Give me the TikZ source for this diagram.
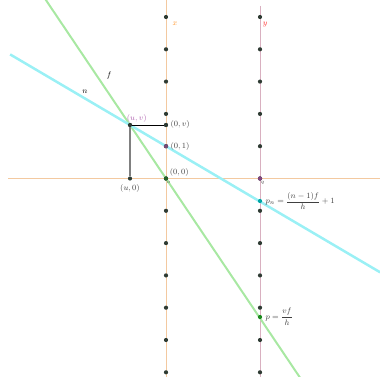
\documentclass[tikz,border=0pt]{standalone}
\usepackage{xcolor}
\usepackage{tikz}
\usepackage{amsmath}
\usetikzlibrary{positioning,calc}

\definecolor{axisorange}{HTML}{F3C9A0}
\definecolor{linepink}{HTML}{D9B0C0}
\definecolor{fgreen}{HTML}{A8E8A2}
\definecolor{ncyan}{HTML}{9AF0F5}
\definecolor{dotdark}{HTML}{2E3B33}

\begin{document}
\begin{tikzpicture}[
    x=1pt,y=-1pt,
    dot/.style={
        circle,fill=dotdark,inner sep=0pt,
        minimum size=4.2pt
    },
    lbl/.style={font=\footnotesize,inner sep=1pt,text=black!75},
    axis/.style={axisorange,line width=0.9pt},
    fline/.style={fgreen,line width=2pt},
    nline/.style={ncyan,line width=2.5pt}
]
\useasboundingbox (0,0) rectangle (380,377);

% axes
\coordinate (hleft) at (8,178.5);
\coordinate (hright) at (380,178.5);
\coordinate (xtop) at (166,0);
\coordinate (xbot) at (166,377);
\coordinate (ytop) at (260,6);
\coordinate (ybot) at (260,377);
\draw[axis] (hleft) -- (hright);
\draw[axis] (xtop) -- (xbot);
\draw[linepink,line width=0.9pt] (ytop) -- (ybot);

% points
\node[dot] (uv) at (130,125) {};
\node[dot] (u0) at (130,178.5) {};
\node[dot] (zv) at (166,125) {};
\node[dot,fill=black!55!violet!70] (one) at (166,146.2) {};
\node[dot,fill=dotdark!80!green] (orig) at (166,178.5) {};
\node[dot,fill=violet!45!gray] (q) at (260,178.5) {};

% lines f and n
\coordinate (ftop) at ($(uv)!-2.36!(orig)$);
\coordinate (fbot) at ($(uv)!4.75!(orig)$);
\coordinate (nleft) at ($(uv)!-3.33!(one)$);
\coordinate (nright) at ($(uv)!6.95!(one)$);
\draw[fline] (ftop) -- (fbot);
\draw[nline] (nleft) -- (nright);

\node[dot,fill=teal!70!cyan] (pn) at (260,201) {};
\node[dot,fill=green!40!dotdark] (p) at (260,317) {};

\draw[gray,line width=1.4pt] (uv) -- (u0);
\draw[black,line width=0.9pt] (uv) -- (zv);

% dots on both lines
\foreach \i in {0,...,11} {
    \node[dot] (xd\i) at (166,17+32.3*\i) {};
    \node[dot] (yd\i) at (260,17+32.3*\i) {};
}
\node[dot,fill=black!55!violet!70] at (one) {};
\node[dot,fill=dotdark!80!green] at (orig) {};
\node[dot,fill=violet!45!gray] at (q) {};
\node[dot] at (uv) {};
\node[dot] at (zv) {};

% labels
\node[lbl,text=violet!60,above right=0pt and -6pt of uv] {$(u,v)$};
\node[lbl,right=1pt of zv] {$(0,v)$};
\node[lbl,right=1pt of one] {$(0,1)$};
\node[lbl,above right=-1pt and 1pt of orig] {$(0,0)$};
\node[lbl,font=\tiny,below right=0pt and -2pt of orig] {$o$};
\node[lbl,below=2pt of u0] {$(u,0)$};
\node[lbl,font=\tiny,below right=0pt and -2pt of q] {$q$};
\node[lbl,right=2pt of pn] {$p_n=\dfrac{(n-1)f}{h}+1$};
\node[lbl,right=2pt of p] {$p=\dfrac{vf}{h}$};
\node[lbl,text=black] (flbl) at (109,76) {$f$};
\node[lbl,text=black] (nlbl) at (85,92) {$n$};
\node[lbl,text=orange!80] (xlbl) at (175,24) {$x$};
\node[lbl,text=red!80] (ylbl) at (265,25) {$y$};
\end{tikzpicture}
\end{document}
